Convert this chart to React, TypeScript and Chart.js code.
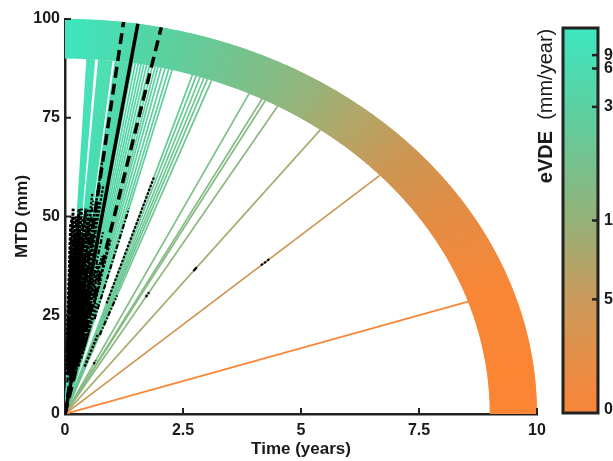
import React, { useEffect, useRef } from "react";
import { Chart, registerables } from "chart.js";

Chart.register(...registerables);

// eVDE (mm/year) of each individual trajectory (slope of MTD vs time)
const eVDE = [
  191.2, 179.7, 169.5, 160.4, 152.2, 144.8, 124.6, 119.6, 114.9, 110.7, 106.7,
  103.0, 99.5, 96.3, 93.2, 90.4, 83.5, 81.2, 79.0, 76.9, 75.0, 73.1, 71.3, 69.6,
  68.0, 66.4, 62.1, 59.6, 57.2, 55.0, 53.0, 51.1, 49.3, 47.6, 46.0, 44.6, 43.0,
  41.3, 39.7, 38.4, 31.8, 30.8, 29.8, 28.9, 28.1, 27.2, 20.8, 19.1, 18.7, 17.3,
  13.3, 9.06, 3.33,
];

// mean eVDE and its confidence bounds (mm/year)
const meanEVDE = 64;
const ciEVDE = [80, 48];

// observed follow-up segments: eVDE of the patient, MTD at first and last scan (mm)
const obsSlope = [
  280, 250, 230, 210, 191.2, 179.7, 169.5, 160.4, 152.2, 144.8, 124.6, 119.6,
  114.9, 110.7, 106.7, 103.0, 99.5, 96.3, 93.2, 90.4, 83.5, 81.2, 79.0, 76.9,
  75.0, 73.1, 71.3, 69.6, 66.4, 62.1, 59.6, 57.2, 55.0, 51.1, 47.6, 44.6, 41.3,
  38.4, 31.8, 28.9, 27.2, 20.8, 17.3, 13.3, 9.06,
  400, 350, 320, 300, 270, 240, 220, 200, 185, 175, 165, 155, 148, 140, 130, 122,
  117, 112, 108, 101, 98, 94, 88, 85, 78, 72, 67, 63, 58, 54, 50, 46, 42,
  70, 61, 56, 52, 48, 44,
];
const obsStart = [
  22, 14, 28, 10, 18, 12, 24, 8, 30, 16, 12, 26, 20, 10, 34, 18, 14, 38, 22, 30,
  12, 44, 18, 26, 36, 20, 46, 16, 24, 12, 20, 30, 18, 26, 14, 22, 16, 24, 28, 12,
  20, 12.6, 29.6, 36.2, 37.6,
  20, 12, 16, 24, 10, 30, 14, 20, 10, 26, 12, 16, 22, 10, 18, 14,
  28, 20, 12, 24, 16, 10, 26, 18, 12, 22, 14, 24, 16, 20, 12, 26, 14,
  10, 12, 8, 14, 10, 12,
];
const obsEnd = [
  44, 38, 50, 34, 50, 42, 52, 40, 50, 46, 48, 52, 42, 36, 52, 44, 40, 56, 48, 54,
  34, 64, 40, 44, 54, 38, 58, 32, 42, 28, 36, 46, 32, 40, 26, 34, 28, 52, 60, 20,
  30, 13.6, 30.8, 37.4, 39.4,
  48, 50, 44, 52, 40, 50, 46, 50, 44, 52, 48, 40, 52, 36, 50, 44,
  52, 46, 30, 50, 38, 28, 50, 44, 36, 46, 30, 44, 34, 38, 26, 44, 22,
  30, 26, 22, 28, 20, 24,
];

const xTicks = [0, 2.5, 5, 7.5, 10];
const yTicks = [0, 25, 50, 75, 100];
const cbTicks = [90, 60, 30, 10, 5, 0];
const cbLabels = ["90", "60", "30", "10", "5", "0"];

const X_MAX = 10;
const Y_MAX = 100;
const INNER_R = 0.9;
const OUTER_R = 1.0;

const FONT = "'Liberation Sans', Arial, Helvetica, sans-serif";
const TEXT = "#1a1a1a";

// colour map along the angle (0 = horizontal / slow, 1 = vertical / fast)
const bandStops: [number, number[]][] = [
  [0.0, [251, 133, 51]],
  [0.22, [248, 135, 55]],
  [0.35, [228, 140, 68]],
  [0.47, [204, 150, 82]],
  [0.57, [176, 168, 106]],
  [0.67, [140, 184, 128]],
  [0.78, [110, 198, 146]],
  [0.89, [82, 214, 166]],
  [1.0, [61, 230, 191]],
];
const cbStops: [number, string][] = [
  [0.0, "#f7863a"],
  [0.1, "#ec8b42"],
  [0.3, "#c99a5c"],
  [0.5, "#95b178"],
  [0.75, "#62cc9c"],
  [1.0, "#3de6bf"],
];

function colorAt(f: number): string {
  const t = Math.max(0, Math.min(1, f));
  for (let i = 0; i < bandStops.length - 1; i++) {
    const [a, ca] = bandStops[i];
    const [b, cb] = bandStops[i + 1];
    if (t >= a && t <= b) {
      const k = (t - a) / (b - a);
      const c = ca.map((v, j) => Math.round(v + (cb[j] - v) * k));
      return `rgb(${c[0]},${c[1]},${c[2]})`;
    }
  }
  const c = bandStops[bandStops.length - 1][1];
  return `rgb(${c[0]},${c[1]},${c[2]})`;
}

const angleFrac = (s: number) => Math.atan((s * X_MAX) / Y_MAX) / (Math.PI / 2);
const endTime = (s: number, r: number) =>
  (r * X_MAX) / Math.sqrt(1 + Math.pow((s * X_MAX) / Y_MAX, 2));

const bandPlugin = {
  id: "band",
  beforeDatasetsDraw(chart: any) {
    const { ctx } = chart;
    const xs = chart.scales.x;
    const ys = chart.scales.y;
    const N = 300;
    const px = (r: number, a: number) => xs.getPixelForValue(r * X_MAX * Math.cos(a));
    const py = (r: number, a: number) => ys.getPixelForValue(r * Y_MAX * Math.sin(a));
    ctx.save();
    for (let i = 0; i < N; i++) {
      const a0 = (i / N) * (Math.PI / 2);
      const a1 = Math.min(Math.PI / 2, ((i + 1.6) / N) * (Math.PI / 2));
      ctx.beginPath();
      ctx.moveTo(px(OUTER_R, a0), py(OUTER_R, a0));
      ctx.lineTo(px(OUTER_R, a1), py(OUTER_R, a1));
      ctx.lineTo(px(INNER_R, a1), py(INNER_R, a1));
      ctx.lineTo(px(INNER_R, a0), py(INNER_R, a0));
      ctx.closePath();
      ctx.fillStyle = colorAt((i + 0.5) / N);
      ctx.fill();
    }
    ctx.restore();
  },
};

const decorPlugin = {
  id: "decor",
  afterDraw(chart: any) {
    const { ctx, chartArea } = chart;
    const xs = chart.scales.x;
    const ys = chart.scales.y;
    ctx.save();
    // inward tick marks
    ctx.strokeStyle = "#222";
    ctx.lineWidth = 2;
    xTicks.forEach((v) => {
      if (v === 0) return;
      const x = xs.getPixelForValue(v);
      ctx.beginPath();
      ctx.moveTo(x, chartArea.bottom);
      ctx.lineTo(x, chartArea.bottom - 6);
      ctx.stroke();
    });
    yTicks.forEach((v) => {
      if (v === 0) return;
      const y = ys.getPixelForValue(v);
      ctx.beginPath();
      ctx.moveTo(chartArea.left, y);
      ctx.lineTo(chartArea.left + 6, y);
      ctx.stroke();
    });

    // colour bar
    const L = 563, R = 598, T = 28, B = 413;
    const g = ctx.createLinearGradient(0, B, 0, T);
    cbStops.forEach(([o, c]) => g.addColorStop(o, c));
    ctx.fillStyle = g;
    ctx.fillRect(L, T, R - L, B - T);
    ctx.lineWidth = 3;
    ctx.strokeStyle = "#222";
    ctx.strokeRect(L, T, R - L, B - T);
    ctx.fillStyle = TEXT;
    ctx.font = `bold 16px ${FONT}`;
    ctx.textBaseline = "middle";
    ctx.textAlign = "left";
    cbTicks.forEach((v, i) => {
      const y = B - angleFrac(v) * (B - T);
      if (v !== 0) {
        ctx.lineWidth = 2.5;
        ctx.beginPath();
        ctx.moveTo(R - 6, y);
        ctx.lineTo(R, y);
        ctx.stroke();
      }
      ctx.fillText(cbLabels[i], R + 6, v === 0 ? y - 3 : y);
    });

    // colour bar title
    ctx.save();
    ctx.translate(546, 106);
    ctx.rotate(-Math.PI / 2);
    const boldF = `bold 20px ${FONT}`;
    const normF = `20px ${FONT}`;
    ctx.font = boldF;
    const w1 = ctx.measureText("eVDE").width;
    ctx.font = normF;
    const w2 = ctx.measureText("  (mm/year)").width;
    const start = -(w1 + w2) / 2;
    ctx.textAlign = "left";
    ctx.textBaseline = "middle";
    ctx.font = boldF;
    ctx.fillText("eVDE", start, 0);
    ctx.font = normF;
    ctx.fillText("  (mm/year)", start + w1, 0);
    ctx.restore();
    ctx.restore();
  },
};

export default function App() {
  const ref = useRef<HTMLCanvasElement>(null);
  useEffect(() => {
    if (!ref.current) return;
    const datasets: any[] = [];
    eVDE.forEach((s) => {
      const t = endTime(s, INNER_R);
      datasets.push({
        data: [
          { x: 0, y: 0 },
          { x: t, y: s * t },
        ],
        borderColor: colorAt(angleFrac(s)),
        borderWidth: 1.7,
        showLine: true,
        pointRadius: 0,
      });
    });
    obsSlope.forEach((s, i) => {
      const extra = i >= 45;
      datasets.push({
        data: [
          { x: obsStart[i] / s, y: obsStart[i] },
          { x: obsEnd[i] / s, y: obsEnd[i] },
        ],
        borderColor: "#000",
        borderWidth: extra ? 3 : i % 3 === 0 ? 2.5 : 2.2,
        borderDash: extra ? [3, 1.5] : i % 3 === 1 ? [5, 2, 1.5, 2] : [2.5, 1.5],
        showLine: true,
        pointRadius: 0,
      });
    });
    [meanEVDE, ...ciEVDE].forEach((s, i) => {
      const t = endTime(s, OUTER_R);
      datasets.push({
        data: [
          { x: 0, y: 0 },
          { x: t, y: s * t },
        ],
        borderColor: "#000",
        borderWidth: 3.5,
        borderDash: i === 0 ? [] : [11, 6],
        showLine: true,
        pointRadius: 0,
      });
    });
    // Chart.js paints the first dataset last; reverse so later ones end up on top
    datasets.reverse();

    const tickFont = { family: FONT, size: 16, weight: "bold" as const };
    const titleFont = { family: FONT, size: 17, weight: "bold" as const };
    const chart = new Chart(ref.current, {
      type: "scatter",
      data: { datasets },
      plugins: [bandPlugin, decorPlugin],
      options: {
        animation: false,
        responsive: false,
        devicePixelRatio: 1,
        events: [],
        layout: { padding: { top: 19, right: 76, left: 0, bottom: 0 } },
        plugins: {
          legend: { display: false },
          tooltip: { enabled: false },
        },
        elements: { point: { radius: 0 }, line: { tension: 0 } },
        scales: {
          x: {
            type: "linear",
            min: 0,
            max: X_MAX,
            afterBuildTicks: (s: any) => {
              s.ticks = xTicks.map((v) => ({ value: v }));
            },
            afterFit: (s: any) => {
              s.height = 47;
            },
            grid: { display: false, drawTicks: false },
            border: { display: true, color: "#222", width: 2.5 },
            ticks: {
              padding: 7,
              color: TEXT,
              font: tickFont,
              maxRotation: 0,
              autoSkip: false,
              callback: (v: any) => String(v),
            },
            title: {
              display: true,
              text: "Time (years)",
              color: TEXT,
              font: titleFont,
              padding: { top: 0, bottom: 1 },
            },
          },
          y: {
            type: "linear",
            min: 0,
            max: Y_MAX,
            afterBuildTicks: (s: any) => {
              s.ticks = yTicks.map((v) => ({ value: v }));
            },
            afterFit: (s: any) => {
              s.width = 65;
            },
            grid: { display: false, drawTicks: false },
            border: { display: true, color: "#222", width: 2.5 },
            ticks: {
              padding: 5,
              color: TEXT,
              font: tickFont,
              autoSkip: false,
              callback: (v: any) => String(v),
            },
            title: {
              display: true,
              text: "MTD (mm)",
              color: TEXT,
              font: titleFont,
              padding: { top: 12, bottom: 0 },
            },
          },
        },
      } as any,
    });
    return () => chart.destroy();
  }, []);

  return (
    <div style={{ position: "fixed", left: 0, top: 0, width: 613, height: 461, background: "#fff" }}>
      <canvas ref={ref} width={613} height={461} style={{ display: "block", width: 613, height: 461 }} />
    </div>
  );
}
